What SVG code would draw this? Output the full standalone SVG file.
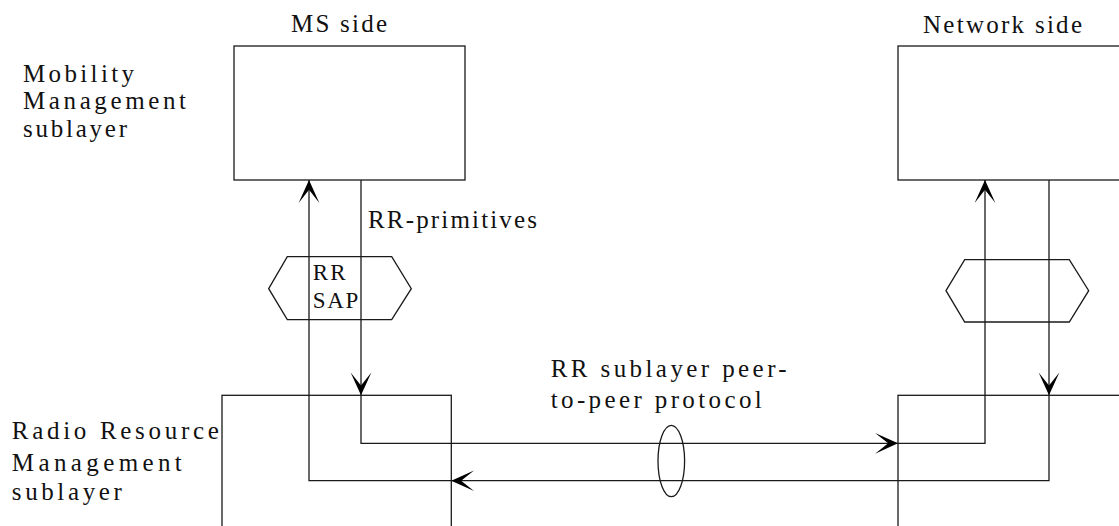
<svg xmlns="http://www.w3.org/2000/svg" width="1119" height="526" viewBox="0 0 1119 526">
<defs>
<style>
.box{fill:none;stroke:#1a1a1a;stroke-width:1.3}
.ln{fill:none;stroke:#1a1a1a;stroke-width:1.3;marker-end:url(#ah)}
.t{font-family:"Liberation Serif","Times New Roman",serif;font-size:25px;fill:#111}
.s{font-family:"Liberation Serif","Times New Roman",serif;font-size:23px;fill:#111}
</style>
<marker id="ah" markerUnits="userSpaceOnUse" markerWidth="24" markerHeight="24" viewBox="-21 -10 22 20" refX="0" refY="0" orient="auto">
<path d="M0,0 L-21,-9.5 L-9,0 L-21,9.5 Z" fill="#000"/>
</marker>
</defs>
<rect width="1119" height="526" fill="#fff"/>
<g id="ms-mm">
<rect class="box" x="234" y="46" width="231" height="134"/>
<text class="t" x="291" y="32" textLength="96" lengthAdjust="spacing">MS side</text>
</g>
<g id="net-mm">
<rect class="box" x="898" y="46" width="231" height="134"/>
<text class="t" x="923" y="33" textLength="159" lengthAdjust="spacing">Network side</text>
</g>
<g id="mm-label">
<text class="t" x="23" y="82" textLength="111" lengthAdjust="spacing">Mobility</text>
<text class="t" x="23" y="109" textLength="163" lengthAdjust="spacing">Management</text>
<text class="t" x="23" y="136.5" textLength="104" lengthAdjust="spacing">sublayer</text>
</g>
<g id="ms-rr">
<rect class="box" x="222" y="395.3" width="229.3" height="160"/>
</g>
<g id="net-rr">
<rect class="box" x="898" y="395.3" width="231" height="160"/>
</g>
<g id="rr-label">
<text class="t" x="11.8" y="439.3" textLength="207" lengthAdjust="spacing">Radio Resource</text>
<text class="t" x="11.8" y="471" textLength="170" lengthAdjust="spacing">Management</text>
<text class="t" x="11.8" y="500" textLength="110" lengthAdjust="spacing">sublayer</text>
</g>
<g id="ms-sap">
<polygon class="box" points="268.7,288.7 287.3,256.7 391.7,256.7 411.3,288.7 391.7,319.7 287.3,319.7"/>
<text class="s" x="312.7" y="280" textLength="33" lengthAdjust="spacing">RR</text>
<text class="s" x="312.7" y="308.3" textLength="45.6" lengthAdjust="spacing">SAP</text>
</g>
<g id="net-sap">
<polygon class="box" points="946,290.7 964.7,259.7 1069.3,259.7 1088.7,290.7 1069.3,322 964.7,322"/>
</g>
<g id="peer">
<ellipse class="box" cx="671.3" cy="461" rx="13.3" ry="35.7"/>
<text class="t" x="550.7" y="377.3" textLength="236" lengthAdjust="spacing">RR sublayer peer-</text>
<text class="t" x="550.7" y="407.5" textLength="211" lengthAdjust="spacing">to-peer protocol</text>
</g>
<g id="connectors">
<path class="ln" d="M361,180 V395.3"/>
<path class="ln" d="M361,395.3 V443.3 H898"/>
<path class="ln" d="M898,443.3 H985 V180"/>
<path class="ln" d="M1049,180 V395.3"/>
<path class="ln" d="M1049,395.3 V480.7 H451.3"/>
<path class="ln" d="M451.3,480.7 H309 V180"/>
<text class="t" x="368" y="228" textLength="169" lengthAdjust="spacing">RR-primitives</text>
</g>
</svg>
